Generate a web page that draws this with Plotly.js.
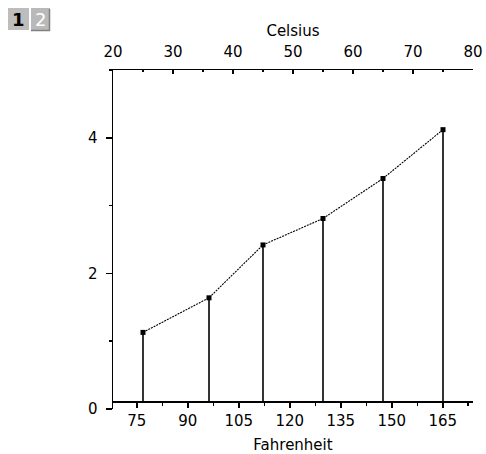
<!DOCTYPE html>
<html>
<head>
<meta charset="utf-8">
<script src="https://cdn.plot.ly/plotly-3.0.1.min.js"></script>
<style>
  html, body { margin: 0; padding: 0; background: #ffffff; }
  #chart { width: 486px; height: 454px; }
</style>
</head>
<body>
<div id="chart"></div>
<script>
// Data (x in Celsius, top axis)
const celsius = [25, 36, 45, 55, 65, 75];
const values = [1.13, 1.64, 2.42, 2.81, 3.40, 4.12];
const fahrenheitTicks = [75, 90, 105, 120, 135, 150, 165];
const celsiusTicks = [20, 30, 40, 50, 60, 70, 80];
const yTicks = [0, 2, 4];

// bottom axis is drawn 8px above y = 0 (plot area 339px tall)
const plotH = 339, plotW = 360, marginL = 113, marginT = 70;
const axisOffsetPx = 8;
const axisPos = axisOffsetPx / plotH;
const yRange = [0, 5];
const stemBase = yRange[0] + axisPos * (yRange[1] - yRange[0]);

const stemX = [], stemY = [];
celsius.forEach((c, i) => { stemX.push(c, c, null); stemY.push(values[i], stemBase, null); });

const fam = 'DejaVu Sans, Arial, sans-serif';
const font = { family: fam, size: 15, color: '#000' };

// pixel -> paper helpers for the layer buttons
const px = v => (v - marginL) / plotW;
const py = v => (marginT + plotH - v) / plotH;

const traces = [
  { // anchor trace for the Fahrenheit axis
    x: celsius.map(c => c * 1.8 + 32), y: values, xaxis: 'x', yaxis: 'y',
    mode: 'none', hoverinfo: 'skip', showlegend: false
  },
  {
    x: stemX, y: stemY, xaxis: 'x2', yaxis: 'y', mode: 'lines',
    line: { color: '#000', width: 1.6 }, hoverinfo: 'skip', showlegend: false
  },
  {
    x: celsius, y: values, xaxis: 'x2', yaxis: 'y', mode: 'lines+markers',
    line: { color: '#000', width: 1.1, dash: '2px,1px' },
    marker: { symbol: 'square', size: 5, color: '#000' }, showlegend: false
  }
];

const layout = {
  width: 486, height: 454,
  margin: { l: marginL, r: 13, t: marginT, b: 45 },
  paper_bgcolor: '#fff', plot_bgcolor: '#fff',
  font: font,
  showlegend: false,
  xaxis: {
    range: [68, 173.9], anchor: 'free', position: axisPos,
    tickmode: 'array', tickvals: fahrenheitTicks, ticktext: fahrenheitTicks.map(String),
    ticks: 'outside', ticklen: 5, tickwidth: 1.5, tickcolor: '#000',
    minor: { tick0: 67.5, dtick: 7.5, ticks: 'outside', ticklen: 3, tickwidth: 1.5, tickcolor: '#000' },
    showline: true, linewidth: 1.5, linecolor: '#000',
    showgrid: false, zeroline: false, tickfont: font, ticklabelstandoff: 0,
    title: { text: 'Fahrenheit', font: font, standoff: 14 }
  },
  xaxis2: {
    range: [20, 80], overlaying: 'x', side: 'top', anchor: 'y',
    tickmode: 'array', tickvals: celsiusTicks, ticktext: celsiusTicks.map(String),
    ticks: 'inside', ticklen: 4, tickwidth: 1.5, tickcolor: '#000',
    minor: { dtick: 5, ticks: 'inside', ticklen: 2, tickwidth: 1.5, tickcolor: '#000' },
    showline: true, linewidth: 1.5, linecolor: '#000',
    showgrid: false, zeroline: false, tickfont: font, ticklabelstandoff: 6,
    title: { text: 'Celsius', font: font, standoff: 2 }
  },
  yaxis: {
    range: yRange,
    tickmode: 'array', tickvals: yTicks, ticktext: yTicks.map(String),
    ticks: 'outside', ticklen: 6, tickwidth: 1.5, tickcolor: '#000',
    minor: { dtick: 1, ticks: 'outside', ticklen: 3, tickwidth: 1.5, tickcolor: '#000' },
    showline: true, linewidth: 1.5, linecolor: '#000',
    showgrid: false, zeroline: false, tickfont: font, ticklabelstandoff: 5
  },
  shapes: [
    { type: 'rect', xref: 'paper', yref: 'paper', x0: px(8), x1: px(29), y0: py(30), y1: py(8),
      fillcolor: '#bdbdbd', line: { width: 0 } },
    { type: 'rect', xref: 'paper', yref: 'paper', x0: px(30), x1: px(50), y0: py(30), y1: py(8),
      fillcolor: '#b9b9b9', line: { width: 0 } },
    { type: 'line', xref: 'paper', yref: 'paper', x0: px(30.5), x1: px(30.5), y0: py(30), y1: py(8),
      line: { color: '#ffffff', width: 1 } },
    { type: 'line', xref: 'paper', yref: 'paper', x0: px(49.5), x1: px(49.5), y0: py(31), y1: py(9),
      line: { color: '#808080', width: 1.5 } },
    { type: 'line', xref: 'paper', yref: 'paper', x0: px(31), x1: px(50), y0: py(30.5), y1: py(30.5),
      line: { color: '#808080', width: 1.5 } }
  ],
  annotations: [
    { text: '<b>1</b>', xref: 'paper', yref: 'paper', x: px(18.5), y: py(19.5), xanchor: 'center', yanchor: 'middle',
      showarrow: false, font: { family: fam, size: 18, color: '#000' } },
    { text: '2', xref: 'paper', yref: 'paper', x: px(40), y: py(19.5), xanchor: 'center', yanchor: 'middle',
      showarrow: false, font: { family: fam, size: 18, color: '#fff' } }
  ]
};

Plotly.newPlot('chart', traces, layout, { displayModeBar: false, staticPlot: true });
</script>
</body>
</html>
